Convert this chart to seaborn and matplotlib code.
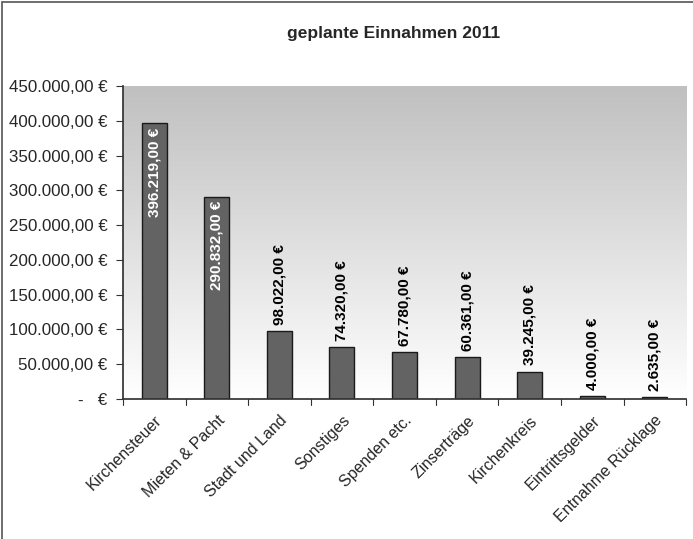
import numpy as np
import pandas as pd
import matplotlib
matplotlib.use("Agg")
import matplotlib.pyplot as plt
import seaborn as sns
from matplotlib.patches import Rectangle

categories = ["Kirchensteuer", "Mieten & Pacht", "Stadt und Land", "Sonstiges",
              "Spenden etc.", "Zinserträge", "Kirchenkreis", "Eintrittsgelder",
              "Entnahme Rücklage"]
values = [396219, 290832, 98022, 74320, 67780, 60361, 39245, 4000, 2635]
yticks = [0, 50000, 100000, 150000, 200000, 250000, 300000, 350000, 400000, 450000]

sns.set_theme(style="white")
plt.rcParams['font.family'] = ['Liberation Sans', 'DejaVu Sans']

def de_fmt(v):
    s = f"{v:,.2f}"
    return s.replace(",", "X").replace(".", ",").replace("X", ".")

df = pd.DataFrame({"cat": categories, "val": values})

fig = plt.figure(figsize=(6.93, 5.39), dpi=100)
ax = fig.add_axes([0.1775, 0.2597, 0.8125, 0.5807])

# gradient background
grad = np.linspace(0, 1, 256).reshape(-1, 1)
ax.imshow(grad, cmap=matplotlib.colors.LinearSegmentedColormap.from_list(
    "g", ["#c0c0c0", "#ffffff"]), aspect="auto", extent=[0, 1, 0, 1],
    transform=ax.transAxes, zorder=0, origin="upper")

sns.barplot(data=df, x="cat", y="val", color="#636363", width=0.4,
            edgecolor="#1a1a1a", linewidth=1.0, saturation=1, ax=ax, zorder=2)

ax.set_ylim(0, 450000)
ax.set_xlim(-0.5, len(categories) - 0.5)
ax.set_yticks(yticks)
ax.set_yticklabels(["-   €"] + [de_fmt(v) + " €" for v in yticks[1:]], fontsize=12.2)
ax.set_xticks(range(len(categories)))
ax.set_xticklabels(categories, rotation=45, ha="right", rotation_mode="anchor", fontsize=11.5)
ax.set_xlabel("")
ax.set_ylabel("")

for sp in ["top", "right"]:
    ax.spines[sp].set_visible(False)
ax.spines["left"].set_color("#333333")
ax.spines["bottom"].set_color("#333333")
ax.spines["left"].set_zorder(3)
ax.spines["bottom"].set_zorder(3)

ax.tick_params(axis="y", direction="out", length=5, width=0.8, color="#333333", left=True, pad=6)
ax.tick_params(axis="x", direction="out", length=5, width=0.8, color="#333333", bottom=False, pad=5)
# category boundary ticks
for b in np.arange(-0.5, len(categories) + 0.5, 1.0):
    ax.plot([b, b], [0, -0.018], transform=ax.get_xaxis_transform(),
            color="#333333", lw=0.8, clip_on=False, zorder=3)

for i, v in enumerate(values):
    label = de_fmt(v) + " €"
    if v > 200000:
        ax.text(i, v - 6000, label, rotation=90, ha="center", va="top",
                color="white", fontsize=11, fontweight="bold", zorder=4)
    else:
        ax.text(i, v + 9000, label, rotation=90, ha="center", va="bottom",
                color="black", fontsize=11, fontweight="bold", zorder=4)

fig.text(0.568, 0.938, "geplante Einnahmen 2011", ha="center", va="center",
         fontsize=12.5, fontweight="bold")

fig.patches.append(Rectangle((0.003, -0.01), 1.05, 1.006, transform=fig.transFigure,
                             fill=False, edgecolor="#555555", lw=1.2))

fig.savefig("out.png", dpi=100)
